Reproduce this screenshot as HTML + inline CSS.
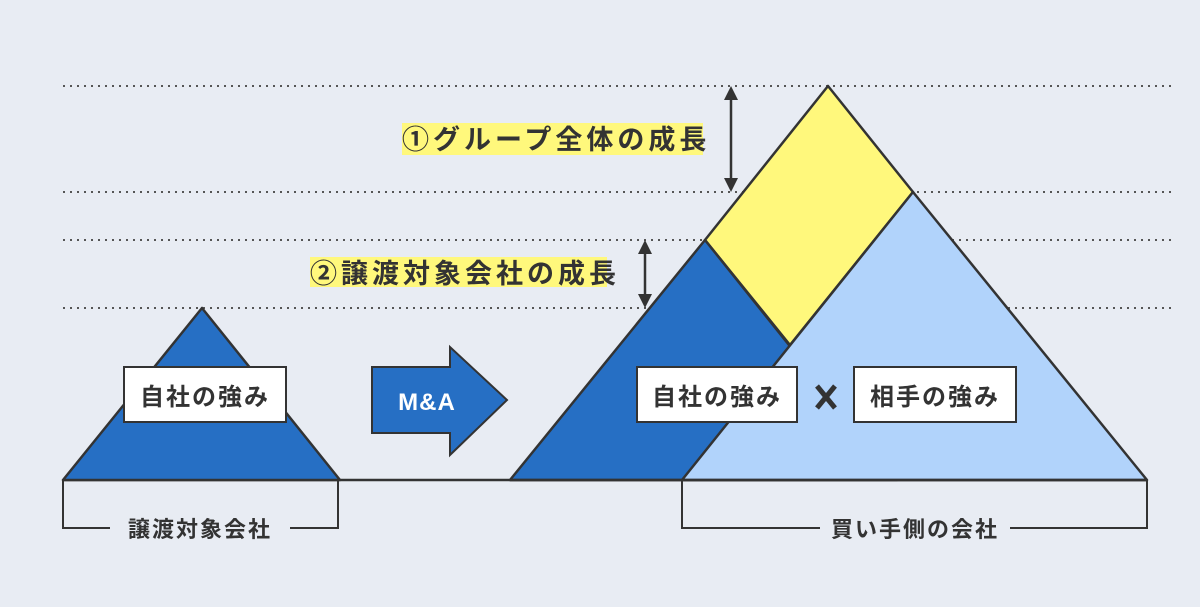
<!DOCTYPE html>
<html><head><meta charset="utf-8"><style>
html,body{margin:0;padding:0;background:#e8ecf3;}
svg{display:block}
text{font-family:"Liberation Sans","Noto Sans CJK JP",sans-serif;fill:#333;font-weight:bold}
</style></head><body>
<svg width="1200" height="607" viewBox="0 0 1200 607" xmlns="http://www.w3.org/2000/svg">
<rect width="1200" height="607" fill="#e8ecf3"/>
<g stroke="#555" stroke-width="2" stroke-dasharray="2 5">
<line x1="63" y1="86" x2="1175" y2="86"/>
<line x1="63" y1="192" x2="1175" y2="192"/>
<line x1="63" y1="240" x2="1175" y2="240"/>
<line x1="63" y1="308" x2="1175" y2="308"/>
</g>
<rect x="402" y="123" width="301" height="32" fill="#fff87c"/>
<rect x="310" y="257" width="297" height="30" fill="#fff87c"/>
<text x="402" y="149" font-size="27" letter-spacing="4">①グループ全体の成長</text>
<text x="310" y="283" font-size="27" letter-spacing="4">②譲渡対象会社の成長</text>
<line x1="63" y1="480" x2="1147" y2="480" stroke="#333" stroke-width="2.5"/>
<polygon points="202,308 63,480 340,480" fill="#266fc4" stroke="#333" stroke-width="2.5" stroke-linejoin="round"/>
<rect x="124" y="367" width="162" height="55" fill="#fff" stroke="#333" stroke-width="2"/>
<text x="205" y="405" font-size="24" text-anchor="middle" font-weight="normal" letter-spacing="2">自社の強み</text>
<polygon points="372,367 450,367 450,347 507,400 450,455 450,433 372,433" fill="#266fc4" stroke="#333" stroke-width="2"/>
<text x="427" y="410" font-size="24" text-anchor="middle" style="fill:#fff" letter-spacing="1">M&amp;A</text>
<polygon points="828,86 913,192 790,345 705,240" fill="#fff87c" stroke="#333" stroke-width="2.5" stroke-linejoin="round"/>
<polygon points="705,240 510,480 897,480" fill="#266fc4" stroke="#333" stroke-width="2.5" stroke-linejoin="round"/>
<polygon points="913,192 682,480 1147,480" fill="#b1d3fb" stroke="#333" stroke-width="2.5" stroke-linejoin="round"/>
<line x1="510" y1="480" x2="1147" y2="480" stroke="#333" stroke-width="2.5"/>
<rect x="637" y="367" width="160" height="55" fill="#fff" stroke="#333" stroke-width="2"/>
<text x="717" y="405" font-size="24" text-anchor="middle" font-weight="normal" letter-spacing="2">自社の強み</text>
<rect x="854" y="367" width="162" height="55" fill="#fff" stroke="#333" stroke-width="2"/>
<text x="935" y="405" font-size="24" text-anchor="middle" font-weight="normal" letter-spacing="2">相手の強み</text>
<g stroke="#333" stroke-width="5"><line x1="817" y1="386" x2="835" y2="408"/><line x1="835" y1="386" x2="817" y2="408"/></g>
<g stroke="#333" stroke-width="2.5" fill="#333">
<line x1="731" y1="95" x2="731" y2="183"/>
<polygon points="731,86 724,100 738,100" stroke="none"/>
<polygon points="731,192 724,178 738,178" stroke="none"/>
<line x1="645" y1="249" x2="645" y2="299"/>
<polygon points="645,240 638,254 652,254" stroke="none"/>
<polygon points="645,308 638,294 652,294" stroke="none"/>
</g>
<g stroke="#333" stroke-width="2" fill="none">
<polyline points="63,480 63,528 110,528"/>
<polyline points="290,528 338,528 338,480"/>
<polyline points="682,480 682,528 820,528"/>
<polyline points="1010,528 1147,528 1147,480"/>
</g>
<text x="200" y="537" font-size="22" text-anchor="middle" font-weight="normal" letter-spacing="2">譲渡対象会社</text>
<text x="915" y="537" font-size="22" text-anchor="middle" font-weight="normal" letter-spacing="2">買い手側の会社</text>
</svg>
</body></html>
